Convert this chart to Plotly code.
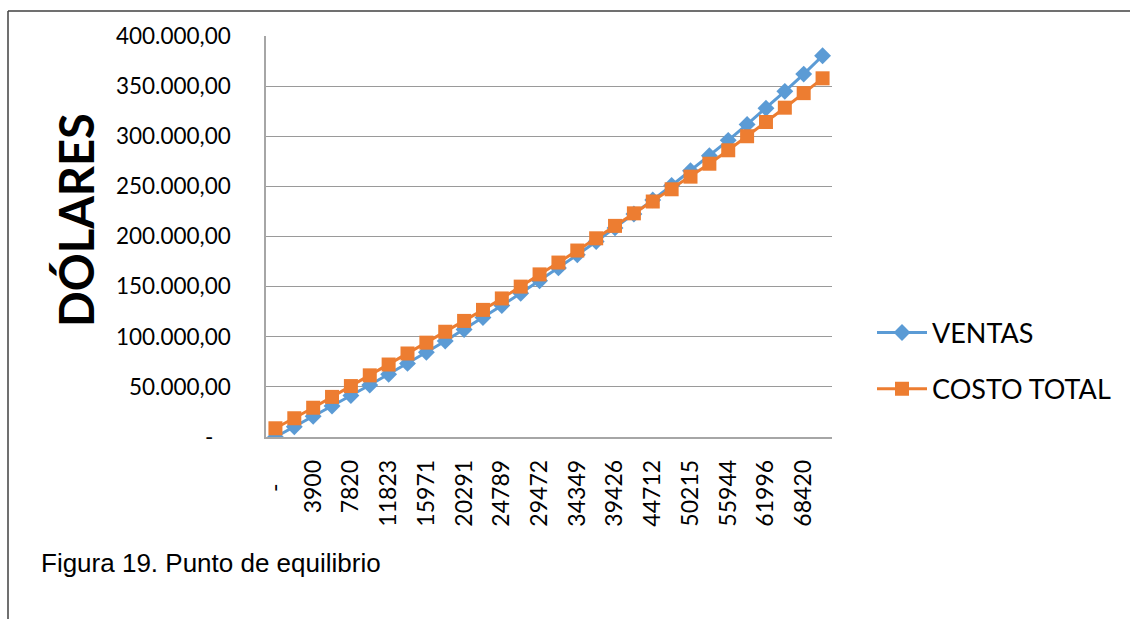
import plotly.graph_objects as go

# Cantidades (unidades) mostradas en el eje horizontal, una etiqueta cada dos puntos
x_labels = ["-", "3900", "7820", "11823", "15971", "20291", "24789", "29472",
            "34349", "39426", "44712", "50215", "55944", "61996", "68420"]

# Valores en dólares para cada uno de los 30 puntos
ventas = [0, 10200, 20600, 30900, 41400, 51900, 62500, 73400, 84500, 95800,
          107300, 119100, 131100, 143400, 155900, 168700, 181700, 195000, 208600, 222400,
          236500, 250900, 265600, 280600, 295900, 311800, 328000, 344800, 362000, 380300]
costo_total = [8700, 18700, 29200, 40000, 50800, 61500, 72300, 83300, 94100, 105000,
               115800, 126800, 138200, 150000, 162200, 174000, 186000, 198200, 210600, 223100,
               234900, 247100, 259700, 272600, 286000, 300000, 314200, 328500, 343000, 357800]

y_ticks = [0, 50000, 100000, 150000, 200000, 250000, 300000, 350000, 400000]

W, H = 1130, 619
L, R, T, B = 266, 832, 36, 437  # plot area in pixels


def px_x(p):
    return (p - L) / (R - L)


def px_y(p):
    return (B - p) / (B - T)


def fmt_money(v):
    if v == 0:
        return "-\u00a0\u00a0\u00a0"
    s = f"{v:,.2f}"
    return s.replace(",", "X").replace(".", ",").replace("X", ".")


idx = list(range(len(ventas)))
x_tickvals = idx[::2]
x_ticktext = [lbl if lbl != "-" else "-\u00a0\u00a0\u00a0\u00a0" for lbl in x_labels]

fig = go.Figure()
fig.add_trace(go.Scatter(
    x=idx, y=ventas, name="VENTAS", mode="lines+markers",
    line=dict(color="#5B9BD5", width=3),
    marker=dict(symbol="diamond", size=13, color="#5B9BD5"),
    legendgroup="a",
))
fig.add_trace(go.Scatter(
    x=idx, y=costo_total, name="COSTO TOTAL", mode="lines+markers",
    line=dict(color="#ED7D31", width=3),
    marker=dict(symbol="square", size=14, color="#ED7D31"),
    legendgroup="b",
))

fig.update_layout(
    width=W, height=H,
    margin=dict(l=L, r=W - R, t=T, b=H - B, pad=0),
    paper_bgcolor="white", plot_bgcolor="white",
    font=dict(family="Lato, sans-serif", color="black"),
    legend=dict(
        x=px_x(872), y=px_y(361), xanchor="left", yanchor="middle",
        font=dict(size=27, family="Lato, sans-serif"),
        tracegroupgap=18, itemwidth=50, bgcolor="rgba(0,0,0,0)",
    ),
    xaxis=dict(
        range=[-0.5, len(idx) - 0.5],
        tickmode="array", tickvals=x_tickvals, ticktext=x_ticktext,
        tickangle=-90, tickfont=dict(size=23),
        showgrid=False, zeroline=False,
        showline=True, linecolor="#A6A6A6", linewidth=1.5,
        ticks="", ticklabelstandoff=12,
    ),
    yaxis=dict(
        range=[0, 400000],
        tickmode="array", tickvals=y_ticks, ticktext=[fmt_money(v) for v in y_ticks],
        tickfont=dict(size=22.5),
        showgrid=True, gridcolor="#9A9A9A", gridwidth=1.2,
        zeroline=False,
        showline=True, linecolor="#A6A6A6", linewidth=1.5,
        ticks="", ticklabelstandoff=29,
    ),
    annotations=[
        dict(text="<b>DÓLARES</b>", textangle=-90, showarrow=False,
             xref="paper", yref="paper", x=px_x(76), y=px_y(220),
             xanchor="center", yanchor="middle",
             font=dict(size=47, family="Lato, sans-serif", color="black")),
        dict(text="Figura 19. Punto de equilibrio", showarrow=False,
             xref="paper", yref="paper", x=px_x(39), y=px_y(563),
             xanchor="left", yanchor="middle",
             font=dict(size=26, family="Liberation Sans, Arial, sans-serif", color="black")),
    ],
    shapes=[
        dict(type="line", xref="paper", yref="paper",
             x0=px_x(8), x1=px_x(W + 5), y0=px_y(11), y1=px_y(11),
             line=dict(color="#404040", width=1.5)),
        dict(type="line", xref="paper", yref="paper",
             x0=px_x(8), x1=px_x(8), y0=px_y(11), y1=px_y(H + 5),
             line=dict(color="#404040", width=1.5)),
    ],
)

fig.write_html("out.html")
